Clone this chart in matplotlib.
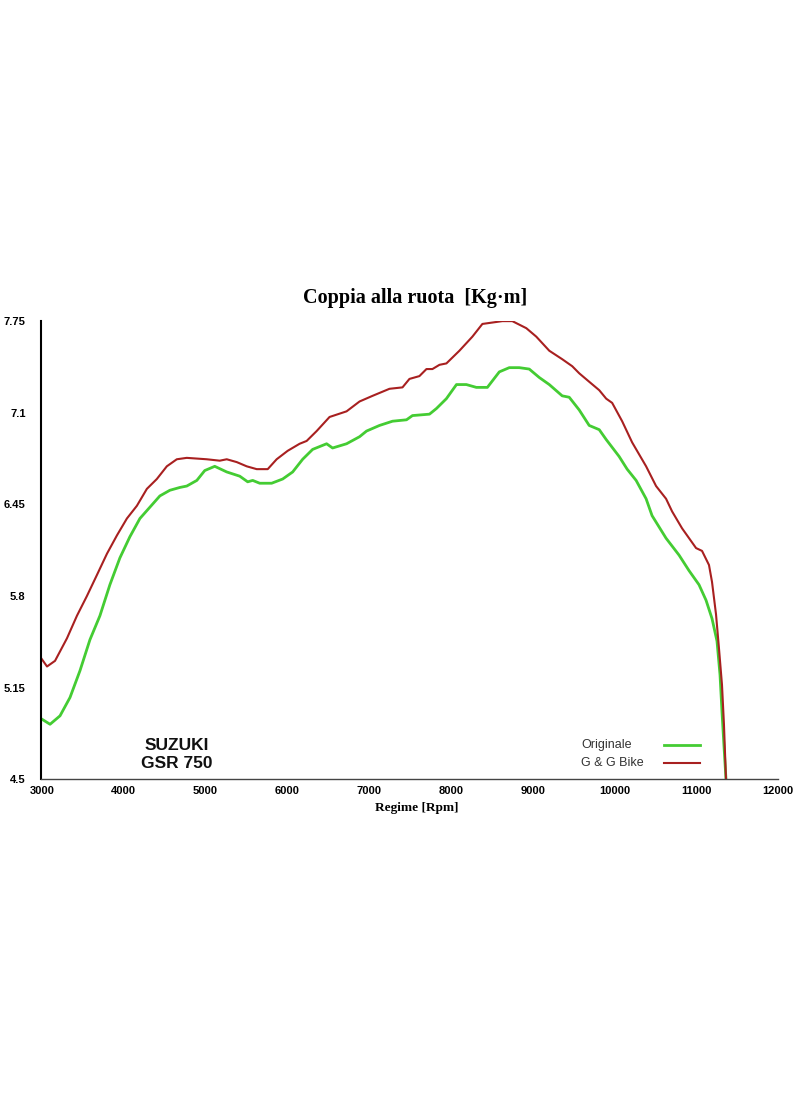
import numpy as np
import matplotlib
matplotlib.use("Agg")
import matplotlib.pyplot as plt

# dati (rpm, Kg*m)
rpm_orig = [2988, 3098, 3220, 3342, 3464, 3586, 3708, 3830, 3952, 4074, 4197, 4319, 4441,
            4563, 4685, 4770, 4893, 4990, 5112, 5259, 5418, 5515, 5576, 5662, 5808, 5943,
            6065, 6187, 6309, 6480, 6553, 6724, 6883, 6968, 7127, 7286, 7457, 7530, 7738,
            7823, 7945, 8068, 8189, 8311, 8446, 8592, 8714, 8836, 8958, 9081, 9203, 9361,
            9447, 9569, 9691, 9814, 9899, 10057, 10155, 10265, 10387, 10460, 10631, 10790,
            10912, 11034, 11120, 11193, 11254, 11291, 11315, 11339, 11364]
coppia_orig = [4.93, 4.89, 4.95, 5.08, 5.27, 5.49, 5.66, 5.88, 6.07, 6.22, 6.35, 6.43, 6.51,
               6.55, 6.57, 6.58, 6.62, 6.69, 6.72, 6.68, 6.65, 6.61, 6.62, 6.60, 6.60, 6.63,
               6.68, 6.77, 6.84, 6.88, 6.85, 6.88, 6.93, 6.97, 7.01, 7.04, 7.05, 7.08, 7.09,
               7.13, 7.20, 7.30, 7.30, 7.28, 7.28, 7.39, 7.42, 7.42, 7.41, 7.35, 7.30, 7.22,
               7.21, 7.12, 7.01, 6.98, 6.91, 6.79, 6.70, 6.62, 6.49, 6.37, 6.21, 6.09,
               5.98, 5.88, 5.77, 5.64, 5.48, 5.24, 4.98, 4.74, 4.50]

rpm_gg = [2988, 3061, 3159, 3305, 3427, 3549, 3672, 3794, 3916, 4038, 4160, 4282, 4404,
          4526, 4648, 4770, 5015, 5173, 5259, 5381, 5503, 5625, 5760, 5869, 6004, 6150,
          6236, 6358, 6516, 6724, 6883, 7042, 7249, 7408, 7493, 7615, 7701, 7774, 7860,
          7945, 8104, 8263, 8385, 8507, 8629, 8751, 8922, 9044, 9203, 9361, 9484, 9569,
          9691, 9814, 9899, 9972, 10094, 10216, 10387, 10509, 10631, 10705, 10827, 10998,
          11071, 11156, 11193, 11242, 11278, 11315, 11339, 11364]
coppia_gg = [5.36, 5.30, 5.34, 5.50, 5.66, 5.80, 5.95, 6.10, 6.23, 6.35, 6.44, 6.56, 6.63,
             6.72, 6.77, 6.78, 6.77, 6.76, 6.77, 6.75, 6.72, 6.70, 6.70, 6.77, 6.83, 6.88,
             6.90, 6.97, 7.07, 7.11, 7.18, 7.22, 7.27, 7.28, 7.34, 7.36, 7.41, 7.41, 7.44,
             7.45, 7.54, 7.64, 7.73, 7.74, 7.75, 7.75, 7.70, 7.64, 7.54, 7.48, 7.43, 7.38,
             7.32, 7.26, 7.20, 7.17, 7.04, 6.89, 6.72, 6.58, 6.49, 6.40, 6.28, 6.14,
             6.12, 6.02, 5.90, 5.67, 5.43, 5.17, 4.89, 4.50]

serie = ["Originale", "G & G Bike"]
colori = ["#44cc33", "#a82020"]
spessori = [2.0, 1.5]

xticks = [3000, 4000, 5000, 6000, 7000, 8000, 9000, 10000, 11000, 12000]
yticks = [4.5, 5.15, 5.8, 6.45, 7.1, 7.75]
ylabels = ["4.5", "5.15", "5.8", "6.45", "7.1", "7.75"]

fig = plt.figure(figsize=(8, 10.96), dpi=100)
ax = fig.add_axes([0.051, 0.289, 0.9215, 0.418])

ax.plot(rpm_orig, coppia_orig, color=colori[0], lw=spessori[0])
ax.plot(rpm_gg, coppia_gg, color=colori[1], lw=spessori[1])

ax.set_xlim(2985, 12000)
ax.set_ylim(4.5, 7.75)
ax.set_xticks(xticks)
ax.set_xticklabels([str(t) for t in xticks])
ax.set_yticks(yticks)
ax.set_yticklabels(ylabels)
ax.tick_params(length=0, labelsize=8)
ax.tick_params(axis="y", pad=11)
ax.tick_params(axis="x", pad=5)
for lab in ax.get_xticklabels() + ax.get_yticklabels():
    lab.set_fontweight("bold")
    lab.set_family("Liberation Sans")

ax.spines["top"].set_visible(False)
ax.spines["right"].set_visible(False)
ax.spines["left"].set_linewidth(1.5)
ax.spines["bottom"].set_linewidth(1.0)
ax.spines["bottom"].set_color("#444444")

ax.set_title("Coppia alla ruota  [Kg·m]", family="Liberation Serif", fontweight="bold",
             fontsize=14.5, pad=13, x=0.508)
ax.set_xlabel("Regime [Rpm]", family="Liberation Serif", fontweight="bold",
              fontsize=9.5, labelpad=4, x=0.51)

ax.text(0.185, 0.055, "SUZUKI\nGSR 750", transform=ax.transAxes, ha="center", va="center",
        family="Liberation Sans", fontweight="bold", fontsize=12.5, linespacing=1.25,
        color="#111111")

# legenda: testo a sinistra, linea a destra
leg_y = [0.074, 0.035]
for nome, col, lw, yy in zip(serie, colori, spessori, leg_y):
    ax.text(0.733, yy, nome, transform=ax.transAxes, ha="left", va="center",
            family="Liberation Sans", fontsize=9, color="#333333")
    ax.plot([0.845, 0.894], [yy, yy], transform=ax.transAxes, color=col, lw=lw)

plt.savefig("out.png", dpi=100)
